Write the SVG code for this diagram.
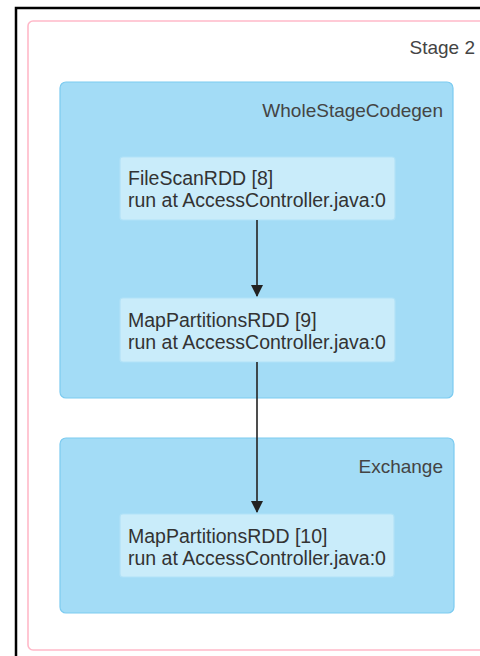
<svg xmlns="http://www.w3.org/2000/svg" width="480" height="656" viewBox="0 0 480 656">
  <defs>
    <style>
      .frame { fill: #ffffff; stroke: #000000; stroke-width: 2.5; }
      .stage { fill: #ffffff; stroke: #ffb9c9; stroke-width: 1.6; }
      .cluster { fill: #a3dcf6; stroke: #7ccbf0; stroke-width: 1.2; }
      .node { fill: #c9ecfa; stroke: #b2e2f7; stroke-width: 1.2; }
      .label { font-family: "Liberation Sans", Arial, sans-serif; font-size: 19px; fill: #444444; text-anchor: end; }
      .ntext { font-family: "Liberation Sans", Arial, sans-serif; font-size: 19.5px; fill: #333333; }
      .edge { stroke: #222222; stroke-width: 1.6; fill: none; }
    </style>
    <marker id="arrow" markerWidth="12" markerHeight="12" refX="11" refY="6" orient="auto" markerUnits="userSpaceOnUse">
      <path d="M0,0 L12,6 L0,12 Z" fill="#222222"/>
    </marker>
  </defs>

  <rect x="0" y="0" width="480" height="656" fill="#ffffff"/>
  <rect class="frame" x="16" y="8" width="480" height="660"/>

  <g id="stage2">
    <rect class="stage" x="28" y="21" width="470" height="629" rx="5" ry="5"/>
    <text class="label" x="475" y="54">Stage 2</text>
  </g>

  <g id="wholestagecodegen">
    <rect class="cluster" x="60" y="82" width="393" height="316" rx="6" ry="6"/>
    <text class="label" x="443" y="117">WholeStageCodegen</text>
  </g>

  <g id="exchange">
    <rect class="cluster" x="60" y="438" width="394" height="175" rx="6" ry="6"/>
    <text class="label" x="443" y="473">Exchange</text>
  </g>

  <g id="node8">
    <rect class="node" x="120" y="157" width="275" height="63" rx="3" ry="3"/>
    <text class="ntext" x="128" y="185">FileScanRDD [8]</text>
    <text class="ntext" x="128" y="207">run at AccessController.java:0</text>
  </g>

  <g id="node9">
    <rect class="node" x="120" y="298" width="275" height="64" rx="3" ry="3"/>
    <text class="ntext" x="128" y="327">MapPartitionsRDD [9]</text>
    <text class="ntext" x="128" y="349">run at AccessController.java:0</text>
  </g>

  <g id="node10">
    <rect class="node" x="120" y="514" width="274" height="63" rx="3" ry="3"/>
    <text class="ntext" x="128" y="543">MapPartitionsRDD [10]</text>
    <text class="ntext" x="128" y="565">run at AccessController.java:0</text>
  </g>

  <g id="connectors">
    <line class="edge" x1="257" y1="220" x2="257" y2="296" marker-end="url(#arrow)"/>
    <line class="edge" x1="257" y1="362" x2="257" y2="512" marker-end="url(#arrow)"/>
  </g>
</svg>
